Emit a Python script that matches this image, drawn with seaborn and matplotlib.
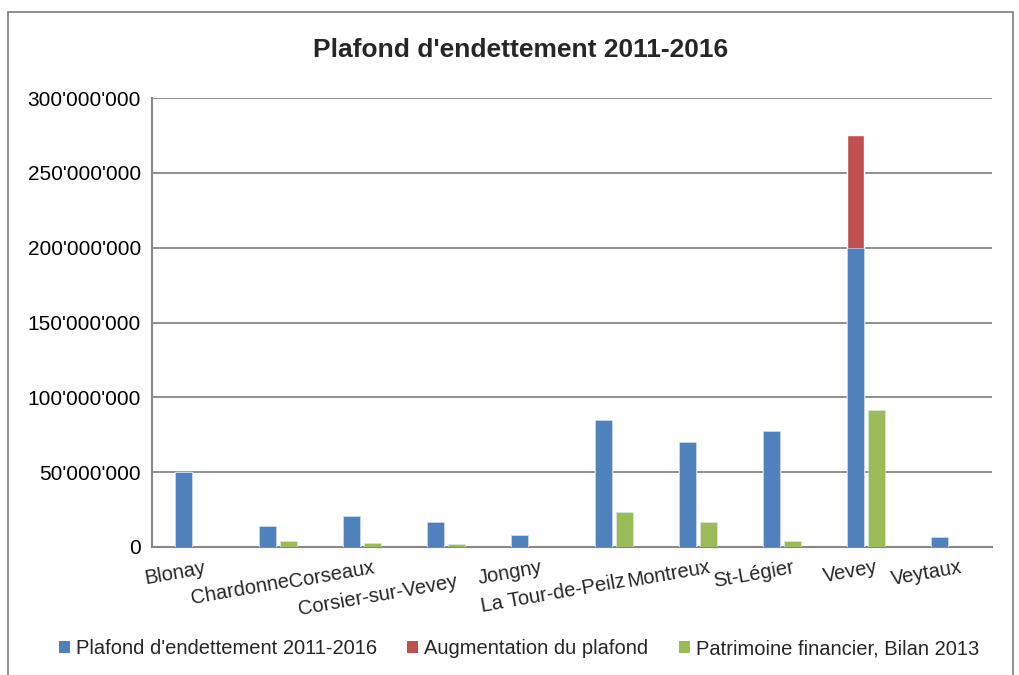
import numpy as np
import pandas as pd
import matplotlib
matplotlib.use("Agg")
import matplotlib.pyplot as plt
import matplotlib.transforms as mtransforms
from matplotlib.patches import Rectangle, Patch
import matplotlib.ticker as mticker
import seaborn as sns

communes = ["Blonay", "Chardonne", "Corseaux", "Corsier-sur-Vevey", "Jongny",
            "La Tour-de-Peilz", "Montreux", "St-Légier", "Vevey", "Veytaux"]
plafond = [50e6, 14e6, 21e6, 17e6, 8e6, 85e6, 70e6, 77.5e6, 200e6, 7e6]
augmentation = [0, 0, 0, 0, 0, 0, 0, 0, 75e6, 0]
patrimoine = [np.nan, 4e6, 2.5e6, 2e6, np.nan, 23.5e6, 17e6, 4e6, 91.5e6, np.nan]
series = ["Plafond d'endettement 2011-2016", "Augmentation du plafond",
          "Patrimoine financier, Bilan 2013"]
colors = ["#4F81BD", "#C0504D", "#9BBB59"]

sns.set_style("white")
plt.rcParams["font.family"] = ["Liberation Sans", "DejaVu Sans"]

hue_order = [series[0], series[2]]
df = pd.DataFrame({
    "commune": communes * 2,
    "serie": [series[0]] * len(communes) + [series[2]] * len(communes),
    "valeur": plafond + patrimoine,
})
total = pd.DataFrame({
    "commune": communes,
    "serie": series[0],
    "valeur": np.array(plafond) + np.array(augmentation),
})

fig, ax = plt.subplots(figsize=(10.2, 6.75), dpi=100)
fig.subplots_adjust(left=152 / 1020, right=992 / 1020, top=1 - 98 / 675, bottom=1 - 547 / 675)

# red layer = total height, blue drawn on top of it
sns.barplot(data=total, x="commune", y="valeur", hue="serie", hue_order=hue_order,
            palette=[colors[1], colors[2]], width=0.5, gap=0.16, order=communes,
            dodge=True, saturation=1, ax=ax, legend=False, errorbar=None, zorder=3)
sns.barplot(data=df, x="commune", y="valeur", hue="serie", hue_order=hue_order,
            palette=[colors[0], colors[2]], width=0.5, gap=0.16, order=communes,
            dodge=True, saturation=1, ax=ax, legend=False, errorbar=None, zorder=3,
            edgecolor="#dfe8f2", linewidth=0.4)

ax.set_xlim(-0.5, len(communes) - 0.5)
ax.set_ylim(0, 300e6)
ax.set_yticks(np.arange(0, 300e6 + 1, 50e6))
ax.yaxis.set_major_formatter(mticker.FuncFormatter(lambda v, p: f"{int(v):,}".replace(",", "'")))
ax.grid(axis="y", color="#868686", linewidth=1.3, zorder=0)
ax.set_axisbelow(True)
ax.set_xlabel("")
ax.set_ylabel("")

for s in ["top", "right"]:
    ax.spines[s].set_visible(False)
for s in ["left", "bottom"]:
    ax.spines[s].set_color("#868686")
    ax.spines[s].set_linewidth(1.5)

ax.tick_params(axis="y", length=0, labelsize=15, pad=8, colors="black")
ax.set_xticks(range(len(communes)))
ax.set_xticks(np.arange(-0.5, len(communes), 1), minor=True)
ax.tick_params(axis="x", which="major", length=0, pad=8)
ax.tick_params(axis="x", which="minor", length=6, width=1.5, color="#868686", direction="out")
ax.set_xticklabels(communes, fontsize=14.5, rotation=10, ha="right", va="top",
                   rotation_mode="anchor")
lower = {"Chardonne", "Corsier-sur-Vevey", "La Tour-de-Peilz"}
for lab in ax.get_xticklabels():
    dy = -14 if lab.get_text() in lower else 0
    off = mtransforms.ScaledTranslation(10 / 100, dy / 100, fig.dpi_scale_trans)
    lab.set_transform(lab.get_transform() + off)

fig.suptitle("Plafond d'endettement 2011-2016", fontsize=19, fontweight="bold",
             x=521 / 1020, y=1 - 50 / 675, va="center")

handles = [Patch(facecolor=c, edgecolor="none") for c in colors]
fig.legend(handles, series, loc="center", bbox_to_anchor=(519 / 1020, 1 - 649 / 675),
           ncol=3, frameon=False, fontsize=14.5, handlelength=0.55, handleheight=0.55,
           handletextpad=0.3, columnspacing=1.5)

fig.patches.append(Rectangle((8 / 1020, -0.05), 1005 / 1020, 1.05 - 12 / 675,
                             transform=fig.transFigure, fill=False,
                             edgecolor="#868686", linewidth=1.3))

fig.savefig("out.png", dpi=100)
